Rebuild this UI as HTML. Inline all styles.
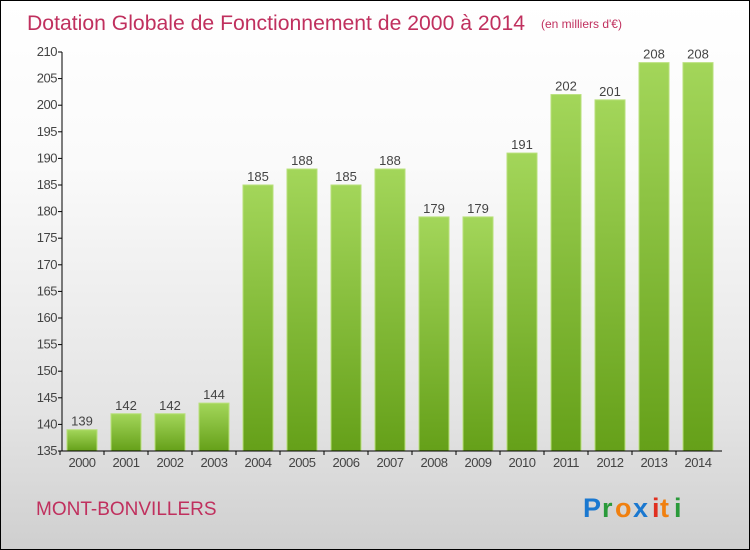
<!DOCTYPE html>
<html><head><meta charset="utf-8"><style>
body{margin:0}
#wrap{width:748px;height:548px;border:1px solid #000;background:linear-gradient(#fff,#fafafa 30%,#e4e4e4 75%,#cfcfcf);position:relative;overflow:hidden;font-family:"Liberation Sans",sans-serif}
</style></head><body>
<div id="wrap">
<svg id="svg" width="748" height="548" xmlns="http://www.w3.org/2000/svg">
<defs><linearGradient id="bg" x1="0" y1="0" x2="0" y2="1"><stop offset="0" stop-color="#a3d65a"/><stop offset="1" stop-color="#65a019"/></linearGradient></defs>
<text x="26" y="29" font-size="21" fill="#c0305e" textLength="498" lengthAdjust="spacingAndGlyphs">Dotation Globale de Fonctionnement de 2000 à 2014</text>
<text x="540" y="27" font-size="12" fill="#c0305e">(en milliers d'€)</text>
<text x="35" y="514" font-size="19" fill="#c0305e">MONT-BONVILLERS</text>
<g font-size="27" font-weight="bold" font-family="'Liberation Sans',sans-serif">
<text x="582" y="516" fill="#1a78d0">P</text><text x="601" y="516" fill="#2a9a3a">r</text><text x="614" y="516" fill="#f08010">o</text><text x="632" y="516" fill="#1a78d0">x</text><text x="651" y="516" fill="#e03020">i</text><text x="659" y="516" fill="#f08010">t</text><text x="673" y="516" fill="#2a9a3a">i</text></g>
<g id="plot"></g>
</svg>
<script>
const years=["2000","2001","2002","2003","2004","2005","2006","2007","2008","2009","2010","2011","2012","2013","2014"];
const values=[139,142,142,144,185,188,185,188,179,179,191,202,201,208,208];
const yTicks=[135,140,145,150,155,160,165,170,175,180,185,190,195,200,205,210];
const NS="http://www.w3.org/2000/svg";
const g=document.getElementById('plot');
const y=v=>450-(v-135)*(399/75);
const x=i=>81+i*44;
function mk(t,a){const e=document.createElementNS(NS,t);for(const k in a)e.setAttribute(k,a[k]);g.appendChild(e);return e;}
yTicks.forEach(v=>{
 const l=mk('line',{x1:57,x2:61,y1:y(v),y2:y(v),stroke:'#000'});
 
 
 const t=mk('text',{x:56,y:y(v)+4,'font-size':13,fill:'#444','text-anchor':'end','letter-spacing':'-0.5'});
 t.textContent=v;
 
 
});
values.forEach((v,i)=>{
 const r=mk('rect',{x:x(i)-15,y:y(v),width:30,height:450-y(v),fill:'url(#bg)',stroke:'#b8e07a','stroke-width':1});
 
 
 const t=mk('text',{x:x(i),y:y(v)-4,'font-size':13,fill:'#444','text-anchor':'middle'});
 t.textContent=v;
 
 
 const xl=mk('text',{x:x(i),y:466,'font-size':13,fill:'#444','text-anchor':'middle','letter-spacing':'-0.5'});
 xl.textContent=years[i];
 
 
 const tk=mk('line',{x1:x(i)-22,x2:x(i)-22,y1:450,y2:454,stroke:'#000'});
 
 
});
const ya=mk('line',{x1:61,x2:61,y1:y(210),y2:450,stroke:'#000'});


const xa=mk('line',{x1:61,x2:721,y1:450,y2:450,stroke:'#000'});


</script>
</div>
</body></html>
